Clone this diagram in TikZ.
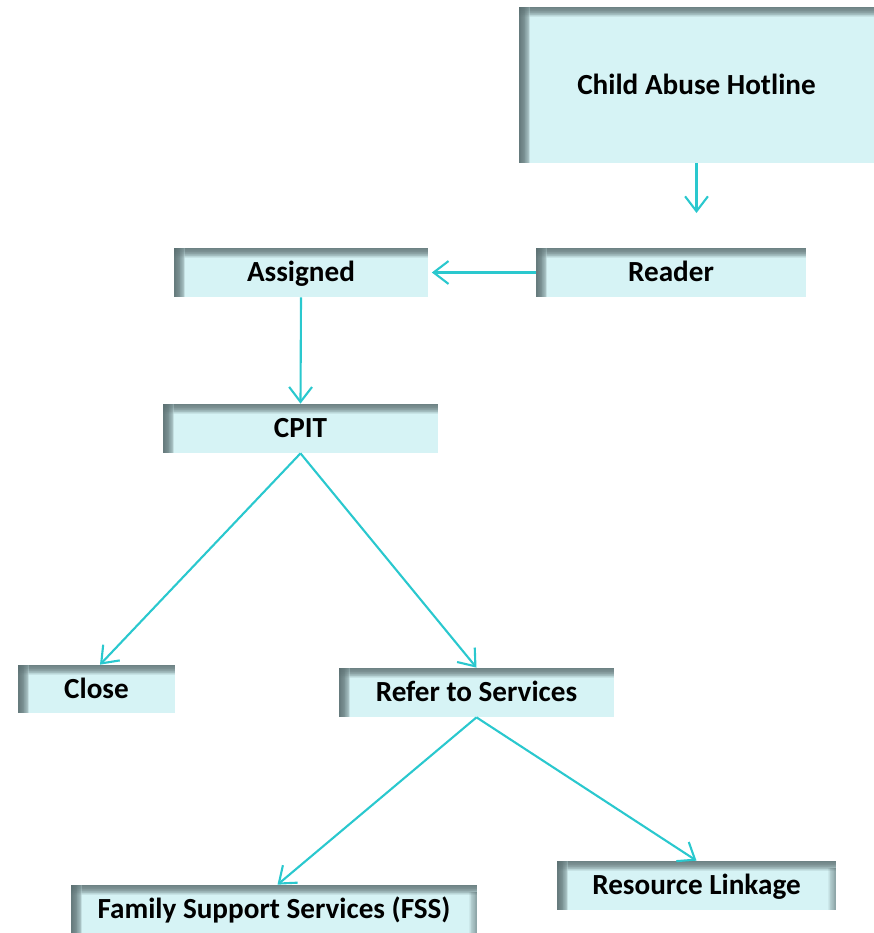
\documentclass[tikz,border=0pt]{standalone}
\usepackage{fontspec}
\setmainfont{Carlito}
\usetikzlibrary{arrows.meta}
\definecolor{boxcyan}{RGB}{214,243,245}
\definecolor{edgegray}{RGB}{92,112,114}
\definecolor{linkcyan}{RGB}{42,200,206}
\def\rshade{0}
\tikzset{
  flowbox/.style={rectangle, inner sep=0pt, fill=boxcyan,
    font=\bfseries\fontsize{16.6}{19}\selectfont, text=black,
    text height=12.6pt, text depth=2pt,
    path picture={
      % soft inner shadow along the left and top edges: nested, overlapping
      % translucent bands that all start at the edge
      \foreach \i in {1,...,14}{
        \fill[edgegray, opacity=0.15]
          (path picture bounding box.south west) rectangle
          ([xshift=\i*0.45pt]path picture bounding box.north west);
        \fill[edgegray, opacity=0.12]
          ([xshift=6.3pt]path picture bounding box.north west) rectangle
          ([yshift=-\i*0.4pt]path picture bounding box.north east);
        \fill[edgegray, opacity=0.06]
          (path picture bounding box.north west) rectangle
          ([xshift=6.3pt,yshift=-\i*0.4pt]path picture bounding box.north west);
      }
      % optional faint shadow along the right edge
      \foreach \i in {1,...,10}{
        \fill[edgegray, opacity=\rshade]
          ([yshift=-4pt]path picture bounding box.north east) rectangle
          ([xshift=-\i*0.45pt]path picture bounding box.south east);
      }
    }},
  rightshade/.style={/utils/exec={\def\rshade{0.08}}},
  link/.style={draw=linkcyan, line width=1.2pt,
    -{Straight Barb[length=8.5pt, width=13pt, line width=1.2pt]}},
}
\begin{document}
\begin{tikzpicture}[x=0.02cm, y=-0.02cm]
  \useasboundingbox (0,0) rectangle (874,933);

  % boxes (centre in pixel units of 0.02cm)
  \node[flowbox, minimum width=7.1cm, minimum height=3.12cm] (hot) at (696.5,85) {Child Abuse Hotline};
  \node[flowbox, minimum width=5.4cm, minimum height=0.98cm] (reader) at (671,272.5) {Reader};
  \node[flowbox, minimum width=5.08cm, minimum height=0.98cm] (assigned) at (301,272.5) {Assigned};
  \node[flowbox, minimum width=5.5cm, minimum height=0.98cm] (cpit) at (300.5,428.5) {CPIT};
  \node[flowbox, minimum width=3.14cm, minimum height=0.96cm] (close) at (96.5,689) {Close};
  \node[flowbox, minimum width=5.5cm, minimum height=0.98cm] (refer) at (476.5,692.5) {Refer to Services};
  \node[flowbox, rightshade, minimum width=8.12cm, minimum height=0.96cm] (fss) at (274,909) {Family Support Services (FSS)};
  \node[flowbox, rightshade, minimum width=5.58cm, minimum height=0.98cm] (res) at (696.5,885.5) {Resource Linkage};

  \coordinate (hotend) at (696.5,213);

  % connectors
  \draw[link] (hot.south) -- (hotend);
  \draw[link, shorten >=2pt] (reader.west) -- (assigned.east);
  \draw[link] (assigned.south) -- (cpit.north);
  \draw[link] (cpit.south) -- ([xshift=2pt]close.north);
  \draw[link] (cpit.south) -- (refer.north);
  \draw[link] (refer.south) -- ([xshift=2pt]fss.north);
  \draw[link] (refer.south) -- (res.north);
\end{tikzpicture}
\end{document}
